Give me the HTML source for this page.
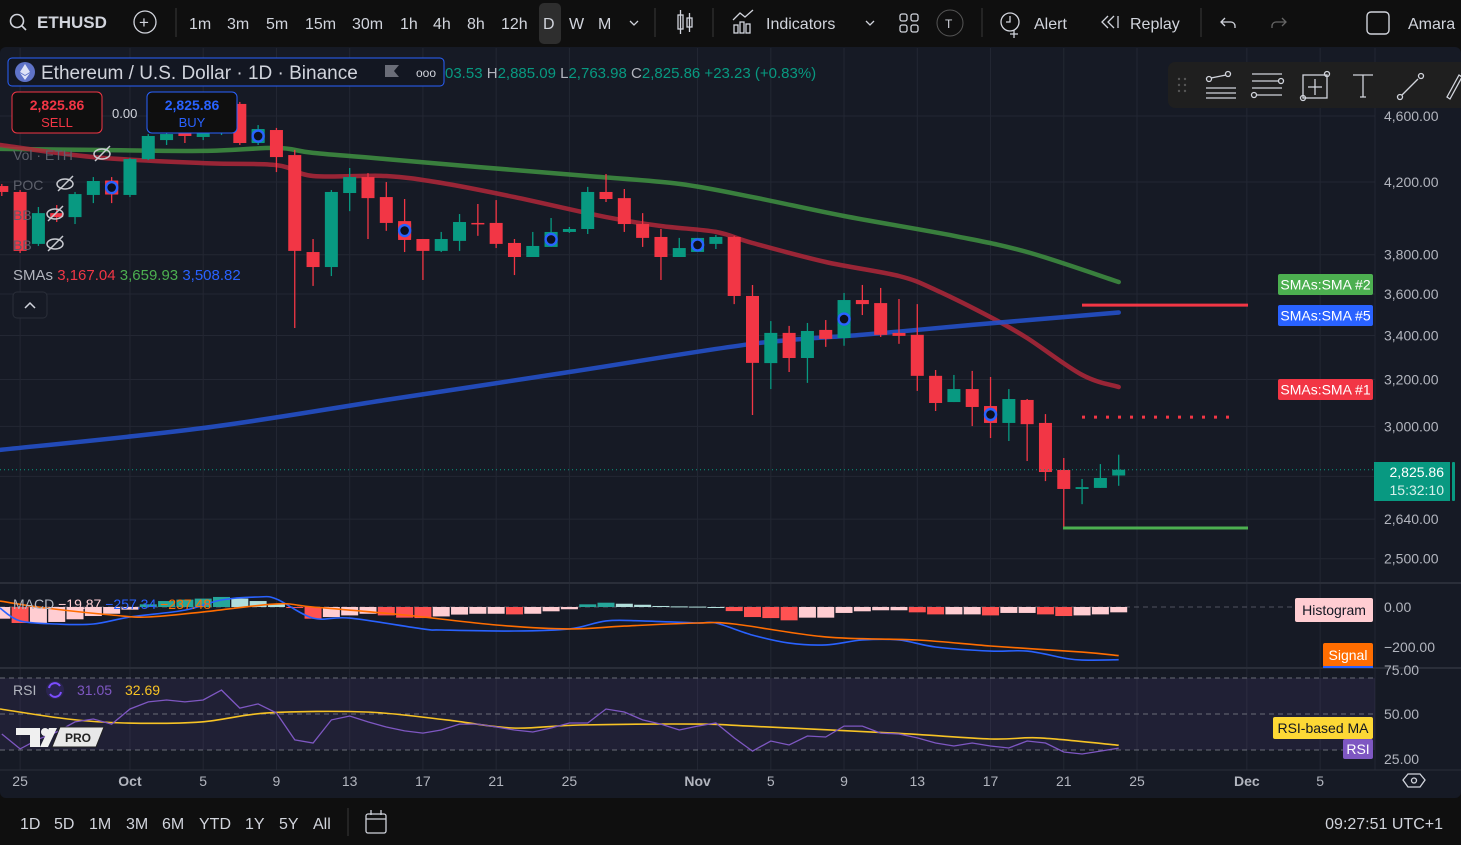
<!DOCTYPE html>
<html><head><meta charset="utf-8">
<style>
html,body{margin:0;padding:0;background:#0f0f0f;overflow:hidden}
svg{display:block;font-family:"Liberation Sans",sans-serif}
</style></head>
<body>
<svg id="c" width="1461" height="845" viewBox="0 0 1461 845" xmlns="http://www.w3.org/2000/svg">
<rect x="0" y="0" width="1461" height="845" fill="#0f0f0f"/>
<rect x="0" y="47" width="1461" height="751" rx="6" fill="#161a25"/>
<g id="grid"></g>
<rect x="0" y="678" width="1375" height="72" fill="#7e57c2" fill-opacity="0.1"/>
<line x1="0" y1="583" x2="1461" y2="583" stroke="#2a2e39" stroke-width="2"/>
<line x1="0" y1="668" x2="1461" y2="668" stroke="#2a2e39" stroke-width="2"/>
<line x1="0" y1="607" x2="1375" y2="607" stroke="#50535e" stroke-dasharray="5,4"/>
<line x1="0" y1="678" x2="1375" y2="678" stroke="#6a6d78" stroke-dasharray="5,4"/>
<line x1="0" y1="714" x2="1375" y2="714" stroke="#6a6d78" stroke-dasharray="5,4"/>
<line x1="0" y1="750" x2="1375" y2="750" stroke="#6a6d78" stroke-dasharray="5,4"/>
<line x1="0" y1="770" x2="1461" y2="770" stroke="#2a2e39"/>
<g id="marks"></g>
<g id="overlay"></g>

<!-- top toolbar -->
<g fill="#d1d4dc" font-size="16">
<circle cx="17" cy="21" r="6.5" fill="none" stroke="#d1d4dc" stroke-width="1.6"/>
<line x1="22" y1="26" x2="26" y2="30" stroke="#d1d4dc" stroke-width="1.6"/>
<text x="37" y="28" font-weight="bold" font-size="17">ETHUSD</text>
<circle cx="145" cy="22" r="11" fill="none" stroke="#d1d4dc" stroke-width="1.3"/>
<text x="139" y="28" font-size="17">+</text>
<line x1="176" y1="8" x2="176" y2="37" stroke="#3a3a3a"/>
<rect x="539" y="3" width="22" height="41" rx="5" fill="#2e2e2e"/>
<text x="189" y="29">1m</text>
<text x="227" y="29">3m</text>
<text x="266" y="29">5m</text>
<text x="305" y="29">15m</text>
<text x="352" y="29">30m</text>
<text x="400" y="29">1h</text>
<text x="433" y="29">4h</text>
<text x="467" y="29">8h</text>
<text x="501" y="29">12h</text>
<text x="543" y="29">D</text>
<text x="569" y="29">W</text>
<text x="598" y="29">M</text>
<path d="M630 21 l4 4 l4 -4" fill="none" stroke="#d1d4dc" stroke-width="1.3"/>
<line x1="655" y1="8" x2="655" y2="37" stroke="#3a3a3a"/>
<g stroke="#d1d4dc" fill="none" stroke-width="1.3">
<rect x="678" y="15" width="5" height="14"/><rect x="687" y="18" width="5" height="9"/>
<line x1="680.5" y1="10" x2="680.5" y2="34"/><line x1="689.5" y1="13" x2="689.5" y2="32"/></g>
<line x1="713" y1="8" x2="713" y2="37" stroke="#3a3a3a"/>
<g stroke="#d1d4dc" fill="none" stroke-width="1.3">
<path d="M733 20 l7 -7 l5 4 l8 -7"/><rect x="734" y="25" width="4" height="8"/><rect x="740" y="22" width="4" height="11"/><rect x="746" y="24" width="4" height="9"/></g>
<text x="766" y="29">Indicators</text>
<path d="M866 21 l4 4 l4 -4" fill="none" stroke="#d1d4dc" stroke-width="1.3"/>
<g stroke="#d1d4dc" fill="none" stroke-width="1.3">
<rect x="900" y="14" width="7" height="7" rx="2"/><rect x="911" y="14" width="7" height="7" rx="2"/><rect x="900" y="25" width="7" height="7" rx="2"/><rect x="911" y="25" width="7" height="7" rx="2"/></g>
<circle cx="950" cy="23" r="13" fill="none" stroke="#555"/>
<text x="945" y="28" font-size="12">T</text>
<line x1="982" y1="8" x2="982" y2="37" stroke="#3a3a3a"/>
<circle cx="1010" cy="22" r="9" fill="none" stroke="#d1d4dc" stroke-width="1.3"/>
<path d="M1010 16 v6 h-4 M1014 30 v8 M1010 34 h8" stroke="#d1d4dc" fill="none" stroke-width="1.3"/>
<text x="1034" y="29">Alert</text>
<path d="M1108 16 l-6 6 l6 6 M1114 16 l-6 6 l6 6 M1118 16 v12" fill="none" stroke="#d1d4dc" stroke-width="1.3"/>
<text x="1130" y="29">Replay</text>
<line x1="1201" y1="8" x2="1201" y2="37" stroke="#3a3a3a"/>
<path d="M1225 18 l-4 4 l4 4 M1221 22 h10 a4 4 0 0 1 4 4 v2" fill="none" stroke="#d1d4dc" stroke-width="1.3"/>
<path d="M1282 18 l4 4 l-4 4 M1286 22 h-10 a4 4 0 0 0 -4 4 v2" fill="none" stroke="#666" stroke-width="1.3"/>
<rect x="1367" y="12" width="22" height="22" rx="4" fill="none" stroke="#d1d4dc" stroke-width="1.4"/>
<text x="1408" y="29">Amara</text>
</g>

<!-- symbol legend -->
<g>
<rect x="8" y="58" width="436" height="28" rx="4" fill="#131722" stroke="#2962ff"/>
<circle cx="25" cy="72" r="10" fill="#5f73c8"/>
<path d="M25 64 l-5 8 l5 3 l5 -3 z M25 76 l-5 -3 l5 7 l5 -7 z" fill="#dfe3f7"/>
<text x="41" y="79" font-size="19" fill="#d1d4dc">Ethereum / U.S. Dollar · 1D · Binance</text>
<path d="M385 65 h14 l-5 6 l5 6 h-14 z" fill="#6a6d78"/>
<text x="416" y="77" font-size="12" fill="#d1d4dc">ooo</text>
<text x="445" y="78" font-size="15" fill="#089981">03.53 <tspan fill="#b2b5be">H</tspan>2,885.09 <tspan fill="#b2b5be">L</tspan>2,763.98 <tspan fill="#b2b5be">C</tspan>2,825.86 +23.23 (+0.83%)</text>
<rect x="12" y="92" width="90" height="41" rx="5" fill="#0f0f0f" stroke="#f23645"/>
<text x="57" y="110" text-anchor="middle" font-size="14" font-weight="bold" fill="#f23645">2,825.86</text>
<text x="57" y="127" text-anchor="middle" font-size="13" fill="#f23645">SELL</text>
<text x="112" y="118" font-size="13" fill="#d1d4dc">0.00</text>
<rect x="147" y="92" width="90" height="41" rx="5" fill="#0f0f0f" stroke="#2962ff"/>
<text x="192" y="110" text-anchor="middle" font-size="14" font-weight="bold" fill="#2962ff">2,825.86</text>
<text x="192" y="127" text-anchor="middle" font-size="13" fill="#2962ff">BUY</text>
<g font-size="14" fill="#5d606b">
<text x="13" y="160">Vol · ETH</text>
<text x="13" y="190">POC</text>
<text x="13" y="220">BB</text>
<text x="13" y="250">BB</text>
</g>
<g fill="none" stroke="#c8cad0" stroke-width="1.5">
<ellipse cx="102" cy="154" rx="8" ry="5"/><line x1="95" y1="161" x2="110" y2="146"/>
<ellipse cx="65" cy="184" rx="8" ry="5"/><line x1="58" y1="191" x2="73" y2="176"/>
<ellipse cx="55" cy="214" rx="8" ry="5"/><line x1="48" y1="221" x2="63" y2="206"/>
<ellipse cx="55" cy="244" rx="8" ry="5"/><line x1="48" y1="251" x2="63" y2="236"/>
</g>
<text x="13" y="280" font-size="15" fill="#b2b5be">SMAs <tspan fill="#f23645">3,167.04</tspan> <tspan fill="#4caf50">3,659.93</tspan> <tspan fill="#2962ff">3,508.82</tspan></text>
<rect x="13" y="292" width="34" height="26" rx="4" fill="#161a25" stroke="#2a2e39"/>
<path d="M25 308 l5 -5 l5 5" fill="none" stroke="#d1d4dc" stroke-width="1.5"/>
</g>

<!-- drawing toolbar -->
<g>
<rect x="1168" y="62" width="300" height="46" rx="7" fill="#1f1f1f"/>
<g fill="#555"><circle cx="1179" cy="79" r="1.2"/><circle cx="1185" cy="79" r="1.2"/><circle cx="1179" cy="85" r="1.2"/><circle cx="1185" cy="85" r="1.2"/><circle cx="1179" cy="91" r="1.2"/><circle cx="1185" cy="91" r="1.2"/></g>
<g fill="none" stroke="#d1d4dc" stroke-width="1.3">
<g><circle cx="1209" cy="79" r="2.5"/><circle cx="1228" cy="74" r="2.5"/><line x1="1211" y1="78" x2="1226" y2="75"/><line x1="1206" y1="88" x2="1236" y2="88"/><line x1="1206" y1="93" x2="1236" y2="93"/><line x1="1206" y1="98" x2="1236" y2="98"/></g>
<g><line x1="1252" y1="74" x2="1282" y2="74"/><line x1="1252" y1="81" x2="1278" y2="81"/><circle cx="1281" cy="81" r="2.5"/><line x1="1252" y1="88" x2="1282" y2="88"/><circle cx="1254" cy="95" r="2.5"/><line x1="1257" y1="95" x2="1282" y2="95"/></g>
<g><rect x="1303" y="75" width="24" height="23"/><line x1="1315" y1="79" x2="1315" y2="95"/><line x1="1308" y1="87" x2="1322" y2="87"/><circle cx="1327" cy="74" r="2.5"/><circle cx="1303" cy="98" r="2.5"/></g>
<g><path d="M1353 75 h20 M1363 75 v22 M1360 97 h6"/></g>
<g><circle cx="1400" cy="97" r="2.5"/><line x1="1402" y1="95" x2="1418" y2="79"/><circle cx="1421" cy="76" r="2.5"/></g>
<g><path d="M1447 97 l12 -22 l3 2 l-12 22 z"/></g>
</g>
</g>

<!-- right axis labels -->
<g font-size="14" fill="#b2b5be" id="paxis"></g>

<!-- indicator legends -->
<g font-size="14">
<text x="13" y="609" fill="#b2b5be">MACD <tspan fill="#ffcdd2">−19.87</tspan> <tspan fill="#2962ff">−257.34</tspan> <tspan fill="#ff6d00">−237.48</tspan></text>
</g>
<g font-size="14">
<text x="13" y="695" fill="#b2b5be">RSI</text>
<circle cx="55" cy="690" r="9" fill="#2a2450"/>
<path d="M49 688 a6 6 0 0 1 11 -2 M61 692 a6 6 0 0 1 -11 2" fill="none" stroke="#7c4dff" stroke-width="2"/>
<text x="77" y="695" fill="#7e57c2">31.05</text>
<text x="125" y="695" fill="#f7c325">32.69</text>
</g>
<g>
<path d="M16 728 h24 v19 h-10 v-12 h-14 z" fill="#f0f0f0"/>
<circle cx="45" cy="732" r="4" fill="#f0f0f0"/>
<path d="M40 747 l9 -19 h8 l-9 19 z" fill="#f0f0f0"/>
<path d="M60 727 h44 l-8 20 h-44 z" fill="#e8e8e8" stroke="#222" stroke-width="1"/>
<text x="65" y="742" font-size="12" font-weight="bold" fill="#222">PRO</text>
</g>

<!-- time axis -->
<g font-size="14" fill="#b2b5be" id="taxis"></g>
<g><path d="M1408 774 h12 l5 6 l-5 7 h-12 l-5 -7 z" fill="none" stroke="#d1d4dc" stroke-width="1.3"/><circle cx="1414" cy="780.5" r="2.5" fill="none" stroke="#d1d4dc" stroke-width="1.3"/></g>

<!-- bottom bar -->
<g font-size="16" fill="#d1d4dc">
<text x="20" y="829">1D</text>
<text x="54" y="829">5D</text>
<text x="89" y="829">1M</text>
<text x="126" y="829">3M</text>
<text x="162" y="829">6M</text>
<text x="199" y="829">YTD</text>
<text x="245" y="829">1Y</text>
<text x="279" y="829">5Y</text>
<text x="313" y="829">All</text>
<line x1="348" y1="808" x2="348" y2="836" stroke="#3a3a3a"/>
<g fill="none" stroke="#d1d4dc" stroke-width="1.3"><rect x="366" y="814" width="20" height="19" rx="2"/><line x1="366" y1="819" x2="386" y2="819"/><line x1="371" y1="810" x2="371" y2="815"/><line x1="381" y1="810" x2="381" y2="815"/></g>
<text x="1443" y="829" text-anchor="end">09:27:51 UTC+1</text>
</g>
</svg>
<script>
// ---- data ----
const startDate = "2024-09-24";
const opens = [4177,4143,3857,4024,4002,4126,4206,4126,4335,4450,4506,4469,4493,4677,4438,4512,4359,3814,3736,4137,4229,4114,3980,3883,3820,3873,3970,3970,3862,3788,3841,3921,3937,4143,4108,3964,3894,3788,3846,3857,3894,3590,3273,3412,3296,3426,3388,3570,3555,3412,3403,3216,3102,3158,3085,3014,3111,3014,2825,2752,2756,2803.53];
const highs = [4189,4154,4058,4069,4143,4229,4229,4341,4487,4512,4525,4512,4537,4690,4543,4525,4390,3883,4154,4282,4252,4200,4103,3883,3921,4019,4075,4097,3883,3921,3997,3948,4172,4247,4160,4024,3937,3889,3889,3905,3900,3645,3468,3445,3459,3473,3605,3645,3630,3575,3550,3242,3220,3238,3211,3158,3115,3051,2872,2790,2848,2885.09];
const lows = [4120,3809,3846,3975,3964,4080,4080,4114,4329,4420,4432,4450,4481,4420,4420,4258,3435,3640,3690,4035,3883,3927,3814,3670,3814,3820,3900,3835,3695,3788,3841,3916,3910,4086,3921,3841,3670,3788,3830,3830,3550,3047,3158,3233,3185,3347,3352,3497,3393,3361,3150,3064,3102,3001,2952,2940,2860,2782,2608,2695,2756,2763.98];
const closes = [4143,3820,4024,4002,4131,4206,4131,4335,4475,4487,4475,4493,4512,4432,4512,4347,3820,3736,4143,4229,4108,3970,3878,3820,3883,3975,3964,3857,3788,3846,3921,3937,4143,4103,3964,3889,3788,3835,3857,3894,3590,3274,3412,3296,3421,3384,3570,3550,3403,3398,3216,3098,3158,3081,3014,3115,3009,2817,2752,2759,2794,2825.86];
const markerIdx = [6,14,22,30,38,46,54];
const sma1Days = [-1.1,4,10,14,16,20,23,27,32,35,38,40,44,48,50,53,55,58,60];
const sma1Vals = [4420,4347,4311,4299,4235,4235,4195,4114,4002,3953,3921,3862,3762,3690,3620,3487,3388,3220,3167];
const sma2Days = [-1.1,4,10,14,16,20,25,31,36,40,45,51,55,60];
const sma2Vals = [4396,4390,4384,4402,4372,4335,4288,4235,4189,4114,4008,3900,3814,3660];
const sma5Days = [-1.1,10,20,30,40,46,52,60];
const sma5Vals = [2904,2993,3111,3233,3361,3403,3450,3509];
const levelSolidRed = 3545, levelDotRed = 3038, levelGreen = 2608, lastPrice = 2825.86;
const histVals = [-57,-78,-78,-73,-60,-44,-33,-13,13,29,36,41,49,41,29,13,-5,-57,-49,-41,-33,-41,-52,-54,-46,-37,-33,-33,-36,-33,-21,-11,13,21,16,11,5,3,2,0,-20,-49,-54,-65,-52,-52,-29,-21,-16,-16,-26,-36,-36,-36,-41,-29,-29,-36,-44,-41,-36,-26];
const macdDays = [-1.1,0,2,4,6,9,11,13,14,16,18,22,23,27,30,32,34,37,38,40,42,44,46,48,50,53,55,57,58,60];
const macdVals = [-5,-68,-83,-83,-49,-15,34,49,39,-54,-54,-107,-112,-117,-107,-68,-68,-78,-78,-137,-176,-185,-161,-161,-195,-215,-215,-249,-259,-257];
const sigDays = [-1.1,1.4,5,7,10,14,16,21,26,30,33,37,39,44,49,53,58,60];
const sigVals = [29,-5,-39,-49,-24,15,0,-39,-88,-107,-93,-78,-83,-146,-161,-190,-220,-237];
const rsiVals = [38.9,30.6,36,40,45.6,47.2,44.4,52.8,56.7,57.8,56.7,57.8,63.3,53.3,55.6,50.6,35.6,33.9,46.7,48.9,45.6,42.8,40.6,39.4,41.1,44.4,44.4,42.8,41.1,40,42.2,45,45,52.8,51.1,46.7,44.4,41.1,43.3,45,36.7,29.4,35,32.8,37.8,37.2,43.3,43.3,39.4,38.9,36.7,33.9,32.2,33.9,32.2,31.1,35,33.9,28.9,27.8,29.4,31.05];
const rsiMaDays = [-1.1,2.6,5.7,9.9,13.5,18.9,23.3,26.9,30.6,37.1,39.8,47.7,53,55.7,60];
const rsiMaVals = [52.8,47.2,45,45.6,50.6,51.1,46.7,42.2,43.9,44.4,43.3,39.4,36.1,36.7,32.69];
const priceTicks = [4600,4200,3800,3600,3400,3200,3000,2640,2500];
const priceGrid = [4600,4200,3800,3600,3400,3200,3000,2800,2640,2500];
const timeLabels = ["25","Oct","5","9","13","17","21","25","Nov","5","9","13","17","21","25","Dec","5"];
const timeDays = [0,6,10,14,18,22,26,30,37,41,45,49,53,57,61,67,71];

const NS="http://www.w3.org/2000/svg";
const xOf = d => 20.1 + 18.31*d;
const yOf = p => 116 + 726*(Math.log(4600) - Math.log(p));
const mY = v => 607 - 0.205*v;
const rY = v => 714 - 1.8*(v-50);
function el(tag, attrs, parent){const e=document.createElementNS(NS,tag);for(const k in attrs)e.setAttribute(k,attrs[k]);parent.appendChild(e);return e;}
const grid=document.getElementById('grid'), marks=document.getElementById('marks'), ov=document.getElementById('overlay');

priceGrid.forEach(p=>{const l=el('line',{x1:0,x2:1375,y1:yOf(p),y2:yOf(p),stroke:'#232733'},grid);

});
timeDays.forEach(d=>{const l=el('line',{x1:xOf(d),x2:xOf(d),y1:48,y2:770,stroke:'#232733'},grid);

});
el('line',{x1:1375,x2:1375,y1:48,y2:770,stroke:'#232733'},grid);

const defs=el('defs',{},marks);
const cp=el('clipPath',{id:'mainclip'},defs);el('rect',{x:0,y:48,width:1375,height:534},cp);
const main=el('g',{'clip-path':'url(#mainclip)'},marks);

function path(days, vals, fy){return days.map((d,i)=>(i?'L':'M')+xOf(d).toFixed(1)+' '+fy(vals[i]).toFixed(1)).join(' ');}
function smooth(days, vals, fy){
  const P=days.map((d,i)=>[xOf(d),fy(vals[i])]);
  let s='M'+P[0][0].toFixed(1)+' '+P[0][1].toFixed(1);
  for(let i=0;i<P.length-1;i++){
    const p0=P[Math.max(0,i-1)],p1=P[i],p2=P[i+1],p3=P[Math.min(P.length-1,i+2)];
    const c1=[p1[0]+(p2[0]-p0[0])/6,p1[1]+(p2[1]-p0[1])/6];
    const c2=[p2[0]-(p3[0]-p1[0])/6,p2[1]-(p3[1]-p1[1])/6];
    s+=` C${c1[0].toFixed(1)} ${c1[1].toFixed(1)} ${c2[0].toFixed(1)} ${c2[1].toFixed(1)} ${p2[0].toFixed(1)} ${p2[1].toFixed(1)}`;
  }
  return s;
}
let s;
s=el('path',{d:smooth(sma2Days,sma2Vals,yOf),fill:'none',stroke:'#3d8b40','stroke-width':4.5,'stroke-linecap':'round','stroke-opacity':0.9},main);


s=el('path',{d:smooth(sma1Days,sma1Vals,yOf),fill:'none',stroke:'#b0283a','stroke-width':4.5,'stroke-linecap':'round','stroke-opacity':0.85},main);


s=el('path',{d:smooth(sma5Days,sma5Vals,yOf),fill:'none',stroke:'#2450c8','stroke-width':4.5,'stroke-linecap':'round','stroke-opacity':0.9},main);



const up='#089981', dn='#f23645', bw=13;
opens.forEach((o,i)=>{
  const d=i-1, x=xOf(d), c=closes[i], col=c>=o?up:dn;
  const g=el('g',{},main);
  
  
  el('line',{x1:x,x2:x,y1:yOf(highs[i]),y2:yOf(lows[i]),stroke:col,'stroke-width':1.3},g);
  const t=Math.min(yOf(o),yOf(c)), h=Math.max(1.5,Math.abs(yOf(o)-yOf(c)));
  el('rect',{x:x-bw/2,y:t,width:bw,height:h,fill:col},g);
  if(markerIdx.includes(i)){const cy=t+h/2;
    el('rect',{x:x-bw/2,y:cy-7,width:bw,height:14,fill:col},g);
    el('circle',{cx:x,cy:cy,r:5.5,fill:'#0c1020',stroke:'#2962ff','stroke-width':2.4},g);}
});
let lv;
lv=el('line',{x1:1082,x2:1248,y1:yOf(levelSolidRed),y2:yOf(levelSolidRed),stroke:'#f23645','stroke-width':3},main);


lv=el('line',{x1:1082,x2:1232,y1:yOf(levelDotRed),y2:yOf(levelDotRed),stroke:'#f23645','stroke-width':3,'stroke-dasharray':'3,9'},main);


lv=el('line',{x1:1063,x2:1248,y1:yOf(levelGreen),y2:yOf(levelGreen),stroke:'#4caf50','stroke-width':3},main);


lv=el('line',{x1:0,x2:1375,y1:yOf(lastPrice),y2:yOf(lastPrice),stroke:'#089981','stroke-width':1,'stroke-dasharray':'1,3'},main);



histVals.forEach((v,i)=>{const prev=i?histVals[i-1]:v; let col;
  if(v<0) col = v<prev?'#ff5252':'#ffcdd2'; else col = v>prev?'#26a69a':'#b2dfdb';
  const x=xOf(i-1), y0=mY(0), y1=mY(v);
  const r=el('rect',{x:x-8.5,y:Math.min(y0,y1),width:17,height:Math.max(1,Math.abs(y1-y0)),fill:col},marks);
  
  });
s=el('path',{d:smooth(macdDays,macdVals,mY),fill:'none',stroke:'#2962ff','stroke-width':1.6},marks);


s=el('path',{d:smooth(sigDays,sigVals,mY),fill:'none',stroke:'#ff6d00','stroke-width':1.6},marks);


s=el('path',{d:smooth(rsiMaDays,rsiMaVals,rY),fill:'none',stroke:'#f7c325','stroke-width':1.6},marks);


s=el('path',{d:path(rsiVals.map((v,i)=>i-1),rsiVals,rY),fill:'none',stroke:'#7e57c2','stroke-width':1.3},marks);



const pa=document.getElementById('paxis');
priceTicks.forEach(p=>{const t=el('text',{x:1384,y:yOf(p)+5},pa);t.textContent=p.toLocaleString('en-US',{minimumFractionDigits:2});

});
function tag(x,y,w,h,fill,txt,tc,name){const g=el('g',{},ov);
  
  
  el('rect',{x:x,y:y,width:w,height:h,rx:2,fill:fill},g);
  const t=el('text',{x:x+w/2,y:y+h/2+5,'text-anchor':'middle','font-size':14,fill:tc},g);t.textContent=txt;return g;}
tag(1278,274,95,21,'#4caf50','SMAs:SMA #2','#fff','sma-2-axis-label');
tag(1278,305,95,21,'#2962ff','SMAs:SMA #5','#fff','sma-5-axis-label');
tag(1278,379,95,21,'#f23645','SMAs:SMA #1','#fff','sma-1-axis-label');
const lp=el('g',{},ov);


el('rect',{x:1374,y:462,width:76,height:39,fill:'#089981'},lp);
let t1=el('text',{x:1444,y:477,'text-anchor':'end','font-size':14,fill:'#fff'},lp);t1.textContent='2,825.86';
let t2=el('text',{x:1444,y:495,'text-anchor':'end','font-size':14,fill:'#d6f0ea'},lp);t2.textContent='15:32:10';
el('rect',{x:1452,y:462,width:3,height:39,rx:1,fill:'#089981'},lp);
[[0,612],[-200,652]].forEach(([v,y])=>{const t=el('text',{x:1384,y:y},pa);t.textContent=v===0?'0.00':'−200.00';

});
[['75.00',675],['50.00',719],['25.00',764]].forEach(([s2,y])=>{const t=el('text',{x:1384,y:y},pa);t.textContent=s2;

});
tag(1295,598,78,24,'#ffcdd2','Histogram','#131722','histogram-axis-label');
tag(1323,643,50,24,'#ff6d00','Signal','#fff','signal-axis-label');
el('rect',{x:1323,y:666,width:50,height:2,fill:'#2962ff'},ov);
tag(1273,717,100,22,'#fdd835','RSI-based MA','#131722','rsi-ma-axis-label');
tag(1343,739,30,20,'#7e57c2','RSI','#fff','rsi-axis-label');
el('rect',{x:1376,y:669,width:84,height:4,fill:'#161a25'},ov);
const ta=document.getElementById('taxis');
timeLabels.forEach((s2,i)=>{const t=el('text',{x:xOf(timeDays[i]),y:786,'text-anchor':'middle'},ta);t.textContent=s2;
if(s2==='Oct'||s2==='Nov'||s2==='Dec')t.setAttribute('font-weight','bold');

});
</script>
</body></html>
